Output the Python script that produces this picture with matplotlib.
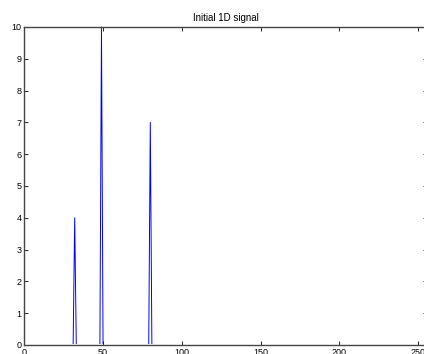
import numpy as np
import matplotlib
matplotlib.use("Agg")
import matplotlib.pyplot as plt
from matplotlib.patches import Rectangle

# Data
n_samples = 256
spike_positions = [32, 49, 80]
spike_heights = [4, 10, 7]
x_ticks = [0, 50, 100, 150, 200, 250]
y_ticks = [0, 1, 2, 3, 4, 5, 6, 7, 8, 9, 10]
title = "Initial 1D signal"

x = np.arange(n_samples)
signal = np.zeros(n_samples)
for p, h in zip(spike_positions, spike_heights):
    signal[p] = h

plt.rcParams['font.family'] = ['Liberation Sans', 'DejaVu Sans']

fig = plt.figure(figsize=(4.24, 3.54), dpi=100)
ax = fig.add_axes([24.3 / 424, 9 / 354, (427.5 - 24.3) / 424, (345 - 27) / 354])
line, = ax.plot(x, signal, color='#0000ff', linewidth=0.7, zorder=1)
clip = Rectangle((0, 0.004), 1, 1, transform=ax.transAxes, facecolor='none', edgecolor='none')
ax.add_patch(clip)
line.set_clip_path(clip)
ax.set_xlim(0, 256)
ax.set_ylim(0, 10)
ax.set_xticks(x_ticks)
ax.set_yticks(y_ticks)
ax.tick_params(direction='in', length=3, width=0.6, labelsize=6.5,
               top=True, right=True, pad=2, colors='black')
for s in ax.spines.values():
    s.set_linewidth(1.0)
    s.set_color('#444444')
    s.set_zorder(3)
ax.set_title(title, fontsize=7, pad=4)

fig.savefig("out.png", dpi=100)
